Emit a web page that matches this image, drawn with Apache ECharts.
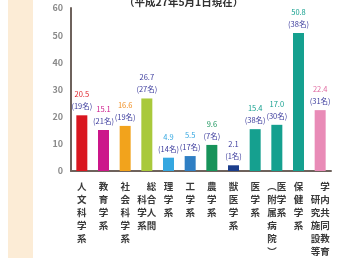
<!DOCTYPE html>
<html><head><meta charset="utf-8">
<script src="https://cdn.jsdelivr.net/npm/echarts@6/dist/echarts.min.js"></script>
<style>html,body{margin:0;padding:0;background:#fff}#c{width:342px;height:258px}</style>
</head><body><div id="c"></div>
<script>
var categories = ['人文科学系','教育学系','社会科学系','総合人間科学系','理学系','工学系','農学系','獣医学系','医学系','医学系(附属病院)','保健学系','学内共同教育研究施設等'];
// vertical label rows (left column char + right column char)
var labelRows = [
  ['人','文','科','学','系'],
  ['教','育','学','系'],
  ['社','会','科','学','系'],
  ['　総','科合','学人','系間'],
  ['理','学','系'],
  ['工','学','系'],
  ['農','学','系'],
  ['獣','医','学','系'],
  ['医','学','系'],
  ['︵医','附学','属系','病　','院　','︶　'],
  ['保','健','学','系'],
  ['　学','研内','究共','施同','設教','等育']
];
var values = [20.5, 15.1, 16.6, 26.7, 4.9, 5.5, 9.6, 2.1, 15.4, 17.0, 50.8, 22.4];
var counts = ['(19名)','(21名)','(19名)','(27名)','(14名)','(17名)','(7名)','(1名)','(38名)','(30名)','(38名)','(31名)'];
var barColors = ['#d9161f','#cc178a','#f2a31c','#a9c93b','#35a7e0','#2f7fc4','#17935a','#1b3d8c','#15a08f','#15a08f','#15a08f','#e98bb7'];
var valueColors = ['#e0242a','#cc178a','#f08c1c','#3a3a9c','#35a7e0','#35a7e0','#17935a','#3a3a9c','#15a08f','#15a08f','#15a08f','#e06aa0'];
var yTicks = [0, 60, 10];

var chart = echarts.init(document.getElementById('c'));
chart.setOption({
  animation: false,
  textStyle: {fontFamily: '"Noto Sans CJK JP", sans-serif'},
  graphic: [
    {type:'rect', shape:{x:8,y:0,width:25,height:258}, style:{fill:'#fcecd6'}, z:-1},
    {type:'text', x:124, y:-3, style:{text:'（平成27年5月1日現在）', font:'bold 10.5px "Noto Sans CJK JP"', fill:'#333'}}
  ],
  grid: {left: 71, right: 11, top: 8, bottom: 86},
  xAxis: {
    type: 'category', data: categories,
    axisLine: {lineStyle: {color: '#6e625c', width: 2}},
    axisTick: {show: false},
    axisLabel: {
      interval: 0, margin: 9, color: '#3a3a3a', fontSize: 9.5, fontWeight: 'bold', lineHeight: 13,
      formatter: function (v, i) { return labelRows[i].join('\n'); }
    }
  },
  yAxis: {
    type: 'value', min: yTicks[0], max: yTicks[1], interval: yTicks[2],
    axisLine: {show: true, lineStyle: {color: '#6e625c', width: 2}},
    axisTick: {show: false},
    splitLine: {show: false},
    axisLabel: {color: '#8a8a8a', fontSize: 9, fontWeight: 'bold', margin: 8}
  },
  series: [{
    type: 'bar', barWidth: 11,
    data: values.map(function (v, i) {
      return {value: v, itemStyle: {color: barColors[i]},
        label: {rich: {a: {color: valueColors[i], fontSize: 7.5, lineHeight: 12}, b: {color: '#3a3a9c', fontSize: 7.5, lineHeight: 12}}}};
    }),
    label: {
      show: true, position: 'top', distance: 3,
      formatter: function (p) { return '{a|' + p.value.toFixed(1) + '}\n{b|' + counts[p.dataIndex] + '}'; }
    }
  }]
});
</script></body></html>
